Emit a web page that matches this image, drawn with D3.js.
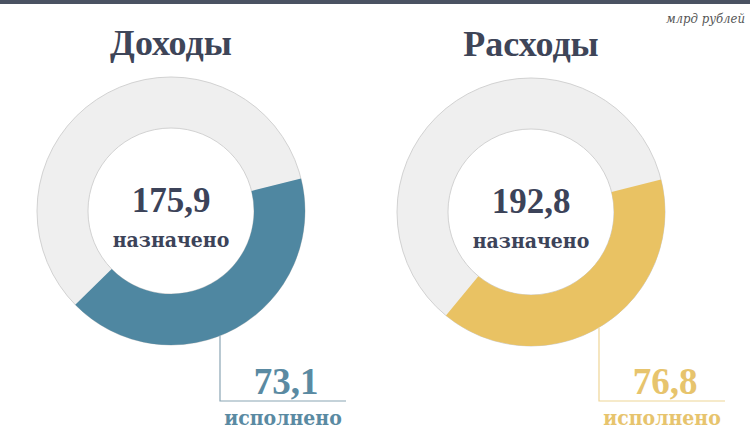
<!DOCTYPE html>
<html>
<head>
<meta charset="utf-8">
<script src="https://cdn.jsdelivr.net/npm/d3@7"></script>
<style>
  body { margin: 0; background: #fff; }
  svg { display: block; }
</style>
</head>
<body>
<div id="box"></div>
<script>
'use strict';

// budget, bn roubles
var titles = ["Доходы", "Расходы"];
var planned = [175.9, 192.8];
var executed = [73.1, 76.8];
var unitLabel = "млрд рублей";
var plannedLabel = "назначено";
var executedLabel = "исполнено";

var width = 750, height = 430;
var outerR = 134, innerR = 83;
var startDeg = 76;
var centers = [[171, 211], [531, 212]];
var leaderX = [220, 599];
var leaderY = 401;
var leaderLen = 126;
var arcColors = ["#4f87a1", "#e9c263"];
var lineColors = ["#8aa5b4", "#eed596"];
var numColors = ["#5a8aa2", "#e7c46d"];
var dark = "#3c4359";
var serif = "'DejaVu Serif Condensed', 'DejaVu Serif', serif";
var times = "'Liberation Serif', serif";

var ru = d3.formatLocale({decimal: ",", thousands: " ", grouping: [3], currency: ["", ""]});
var fmt = ru.format(".1f");

var svg = d3.select("#box")
  .append("svg")
    .attr("width", width)
    .attr("height", height);

// top bar
svg.append("rect")
  .attr("x", 0).attr("y", 0)
  .attr("width", width).attr("height", 4)
  .attr("fill", "#4a5262");

svg.append("text")
  .attr("x", 745).attr("y", 23)
  .attr("text-anchor", "end")
  .style("font-family", serif)
  .style("font-style", "italic")
  .style("font-size", "13px")
  .attr("fill", "#555")
  .text(unitLabel);

var ring = d3.arc().innerRadius(innerR).outerRadius(outerR);

titles.forEach(function(title, i) {
  var g = svg.append("g")
    .attr("transform", "translate(" + centers[i][0] + "," + centers[i][1] + ")");

  // angle scale: full circle = planned
  var angle = d3.scaleLinear()
    .domain([0, planned[i]])
    .range([0, 2 * Math.PI]);
  var a0 = startDeg * Math.PI / 180;

  g.append("path")
    .attr("d", ring({startAngle: 0, endAngle: 2 * Math.PI}))
    .attr("fill", "#efefef")
    .attr("stroke", "#d2d2d2")
    .attr("stroke-width", 1);

  g.append("path")
    .attr("d", ring({startAngle: a0, endAngle: a0 + angle(executed[i])}))
    .attr("fill", arcColors[i]);

  g.append("text")
    .attr("x", 0).attr("y", -156)
    .attr("text-anchor", "middle")
    .style("font-family", times)
    .style("font-weight", "bold")
    .style("font-size", "36px")
    .attr("fill", "#3e4558")
    .text(title);

  g.append("text")
    .attr("x", 0).attr("y", 1)
    .attr("text-anchor", "middle")
    .style("font-family", times)
    .style("font-weight", "bold")
    .style("font-size", "35px")
    .attr("fill", dark)
    .text(fmt(planned[i]));

  g.append("text")
    .attr("x", 0).attr("y", 36)
    .attr("text-anchor", "middle")
    .style("font-family", serif)
    .style("font-weight", "bold")
    .style("font-size", "21px")
    .attr("fill", dark)
    .text(plannedLabel);

  // leader to executed value
  var lx = leaderX[i];
  var topY = centers[i][1] + Math.sqrt(outerR * outerR - Math.pow(lx - centers[i][0], 2));
  svg.append("path")
    .attr("d", d3.line()([[lx, topY], [lx, leaderY], [lx + leaderLen, leaderY]]))
    .attr("fill", "none")
    .attr("stroke", lineColors[i])
    .attr("stroke-width", 1.2);

  svg.append("text")
    .attr("x", lx + leaderLen / 2 + 3).attr("y", 394)
    .attr("text-anchor", "middle")
    .style("font-family", times)
    .style("font-weight", "bold")
    .style("font-size", "37px")
    .attr("fill", numColors[i])
    .text(fmt(executed[i]));

  svg.append("text")
    .attr("x", lx + leaderLen / 2).attr("y", 425)
    .attr("text-anchor", "middle")
    .style("font-family", serif)
    .style("font-weight", "bold")
    .style("font-size", "21px")
    .attr("fill", numColors[i])
    .text(executedLabel);
});
</script>
</body>
</html>
